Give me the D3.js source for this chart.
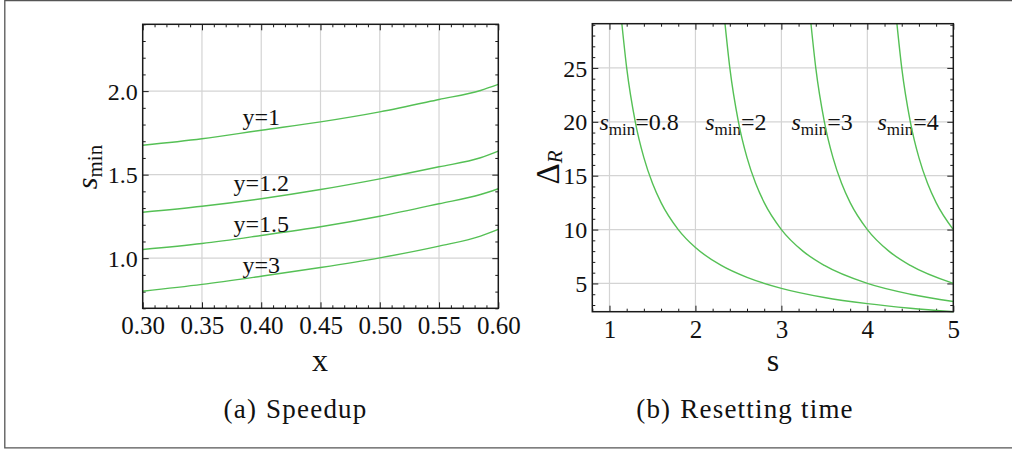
<!DOCTYPE html>
<html><head><meta charset="utf-8">
<script src="https://cdn.jsdelivr.net/npm/d3@7"></script>
<style>
body{margin:0;background:#fff}
svg{display:block}
text{font-family:"Liberation Serif","Times New Roman",serif;fill:#111}
</style>
</head><body>
<svg id="c" width="1012" height="451"></svg>
<script>
// ---------- Panel (a): Speedup ----------
const xA = [0.30, 0.35, 0.40, 0.45, 0.50, 0.55, 0.585, 0.60];
const sY1  = [1.676, 1.715, 1.766, 1.816, 1.876, 1.950, 2.004, 2.040];
const sY12 = [1.275, 1.311, 1.356, 1.411, 1.475, 1.547, 1.601, 1.641];
const sY15 = [1.052, 1.088, 1.136, 1.188, 1.251, 1.326, 1.381, 1.416];
const sY3  = [0.802, 0.843, 0.892, 0.944, 1.002, 1.072, 1.132, 1.172];
const seriesA = [sY1, sY12, sY15, sY3];
const labelsA = ["y=1", "y=1.2", "y=1.5", "y=3"];
const labelXA = [0.40, 0.40, 0.40, 0.40];
const labelYA = [1.80, 1.40, 1.154, 0.914];
const xTicksA = [0.30, 0.35, 0.40, 0.45, 0.50, 0.55, 0.60];
const yTicksA = [1.0, 1.5, 2.0];
const xDomainA = [0.30, 0.60];
const yDomainA = [0.70, 2.40];

// ---------- Panel (b): Resetting time ----------
const sB08 = [1.144, 1.2, 1.3, 1.4, 1.5, 1.6, 1.8, 2.0, 2.3, 2.6, 3.0, 3.5, 4.0, 4.5, 5.0];
const dB08 = [29.1, 25.0, 20.0, 16.67, 14.29, 12.5, 10.0, 8.33, 6.67, 5.56, 4.55, 3.70, 3.125, 2.70, 2.38];
const sB2  = [2.344, 2.4, 2.5, 2.6, 2.7, 2.8, 3.0, 3.25, 3.5, 4.0, 4.5, 5.0];
const dB2  = [29.1, 25.0, 20.0, 16.67, 14.29, 12.5, 10.0, 8.0, 6.67, 5.0, 4.0, 3.33];
const sB3  = [3.344, 3.4, 3.5, 3.6, 3.7, 3.8, 4.0, 4.25, 4.5, 5.0];
const dB3  = [29.1, 25.0, 20.0, 16.67, 14.29, 12.5, 10.0, 8.0, 6.67, 5.0];
const sB4  = [4.344, 4.4, 4.5, 4.6, 4.7, 4.8, 5.0];
const dB4  = [29.1, 25.0, 20.0, 16.67, 14.29, 12.5, 10.0];
const seriesBX = [sB08, sB2, sB3, sB4];
const seriesBY = [dB08, dB2, dB3, dB4];
const labelsB = ["0.8", "2", "3", "4"];
const labelXB = [1.344, 2.471, 3.474, 4.475];
const labelYB = [20, 20, 20, 20];
const xTicksB = [1, 2, 3, 4, 5];
const yTicksB = [5, 10, 15, 20, 25];
const xDomainB = [0.8, 5.0];
const yDomainB = [2.38, 29.1];

const GREEN = "#55c055";
const GRID = "#d4d4d4";
const FRAME = "#1a1a1a";
const SERIF = '"Liberation Serif", "Times New Roman", serif';

const svg = d3.select("#c");

// outer border (left, top, bottom)
svg.append("path")
  .attr("d", "M1013,0.5 H4.8 V447.8 H1013")
  .attr("fill", "none").attr("stroke", "#555").attr("stroke-width", 1.3);

function range(a, b, step) {
  const out = []; const n = Math.round((b - a) / step);
  for (let i = 0; i <= n; i++) out.push(+(a + i * step).toFixed(6));
  return out;
}

function setFont(sel, size, extra) {
  sel.style("font-family", SERIF).style("font-size", size + "px").style("fill", "#111");
  if (extra) sel.style("font-style", extra);
  return sel;
}

function panel(opts) {
  const { x, y, xTicks, yTicks, xMinor, yMinor, xFmt, yFmt } = opts;
  const g = svg.append("g");
  const [x0, x1] = x.range(), [y0, y1] = y.range();
  // grid
  g.selectAll(".gx").data(xTicks.filter(t => x(t) > x0 + 1 && x(t) < x1 - 1)).join("line")
    .attr("x1", d => x(d)).attr("x2", d => x(d)).attr("y1", y1).attr("y2", y0)
    .attr("stroke", GRID).attr("stroke-width", 1.2);
  g.selectAll(".gy").data(yTicks.filter(t => y(t) < y0 - 1 && y(t) > y1 + 1)).join("line")
    .attr("y1", d => y(d)).attr("y2", d => y(d)).attr("x1", x0).attr("x2", x1)
    .attr("stroke", GRID).attr("stroke-width", 1.2);
  const mk = (axisFn, scale, ticks, len, fmt) => axisFn(scale).tickValues(ticks).tickSizeInner(len).tickSizeOuter(0).tickFormat(fmt || "");
  const xMin = xMinor.filter(t => !xTicks.some(m => Math.abs(m - t) < 1e-6));
  const yMin = yMinor.filter(t => !yTicks.some(m => Math.abs(m - t) < 1e-6));
  const styleAxis = sel => {
    sel.attr("font-family", null).attr("font-size", null);
    sel.select(".domain").remove();
    sel.selectAll(".tick line").attr("stroke", FRAME).attr("stroke-width", 1);
  };
  // bottom
  const bx = g.append("g").attr("transform", `translate(0,${y0})`).call(mk(d3.axisBottom, x, xTicks, -6, xFmt));
  styleAxis(bx);
  setFont(bx.selectAll("text"), 25).attr("dy", null).attr("y", 26);
  styleAxis(g.append("g").attr("transform", `translate(0,${y0})`).call(mk(d3.axisBottom, x, xMin, -3)));
  // top
  styleAxis(g.append("g").attr("transform", `translate(0,${y1})`).call(mk(d3.axisTop, x, xTicks, -6)));
  styleAxis(g.append("g").attr("transform", `translate(0,${y1})`).call(mk(d3.axisTop, x, xMin, -3)));
  // left
  const ly = g.append("g").attr("transform", `translate(${x0},0)`).call(mk(d3.axisLeft, y, yTicks, -6, yFmt));
  styleAxis(ly);
  setFont(ly.selectAll("text"), 24).attr("x", -5).attr("dy", "0.34em");
  styleAxis(g.append("g").attr("transform", `translate(${x0},0)`).call(mk(d3.axisLeft, y, yMin, -3)));
  // right
  styleAxis(g.append("g").attr("transform", `translate(${x1},0)`).call(mk(d3.axisRight, y, yTicks, -6)));
  styleAxis(g.append("g").attr("transform", `translate(${x1},0)`).call(mk(d3.axisRight, y, yMin, -3)));
  return g;
}

// ----- Panel A -----
const xa = d3.scaleLinear().domain(xDomainA).range([142.7, 498.3]);
const ya = d3.scaleLinear().domain(yDomainA).range([308.3, 24.3]);
const gA = panel({ x: xa, y: ya, xTicks: xTicksA, yTicks: yTicksA,
  xMinor: range(0.30, 0.60, 0.01), yMinor: range(0.7, 2.4, 0.1),
  xFmt: d3.format(".2f"), yFmt: d3.format(".1f") });

const lineA = d3.line().x((d, i) => xa(xA[i])).y(d => ya(d)).curve(d3.curveMonotoneX);
gA.selectAll(".ca").data(seriesA).join("path")
  .attr("d", d => lineA(d)).attr("fill", "none").attr("stroke", GREEN).attr("stroke-width", 1.4);
setFont(gA.selectAll(".la").data(labelsA).join("text")
  .attr("x", (d, i) => xa(labelXA[i])).attr("y", (d, i) => ya(labelYA[i]))
  .attr("text-anchor", "middle").text(d => d), 24);
gA.append("rect").attr("x", 142.7).attr("y", 24.3).attr("width", 498.3 - 142.7).attr("height", 308.3 - 24.3)
  .attr("fill", "none").attr("stroke", FRAME).attr("stroke-width", 1.5);

// ----- Panel B -----
const xb = d3.scaleLinear().domain(xDomainB).range([592.3, 953.3]);
const yb = d3.scaleLinear().domain(yDomainB).range([311.7, 23.7]);
const gB = panel({ x: xb, y: yb, xTicks: xTicksB, yTicks: yTicksB,
  xMinor: range(0.8, 5.0, 0.2), yMinor: range(3, 29, 1),
  xFmt: d3.format("d"), yFmt: d3.format("d") });

gB.selectAll(".lb").data(labelsB).join("text")
  .attr("x", (d, i) => xb(labelXB[i])).attr("y", (d, i) => yb(labelYB[i]) + 8)
  .attr("text-anchor", "middle")
  .each(function (d) {
    const t = d3.select(this);
    setFont(t, 24);
    setFont(t.append("tspan"), 24, "italic").text("s");
    setFont(t.append("tspan"), 17).attr("dy", 5).text("min");
    setFont(t.append("tspan"), 24).attr("dy", -5).text("=" + d);
  });

const lineB = d3.line().curve(d3.curveMonotoneX);
gB.selectAll(".cb").data(seriesBX).join("path")
  .attr("d", (d, k) => lineB(d.map((s, i) => [xb(s), yb(seriesBY[k][i])])))
  .attr("fill", "none").attr("stroke", GREEN).attr("stroke-width", 1.4);
gB.append("rect").attr("x", 592.3).attr("y", 23.7).attr("width", 953.3 - 592.3).attr("height", 311.7 - 23.7)
  .attr("fill", "none").attr("stroke", FRAME).attr("stroke-width", 1.5);

// ----- axis labels -----
setFont(svg.append("text").attr("x", 320).attr("y", 371).attr("text-anchor", "middle").text("x"), 32);
setFont(svg.append("text").attr("x", 773).attr("y", 371).attr("text-anchor", "middle").text("s"), 32);

const yl = setFont(svg.append("text").attr("transform", "translate(97,167) rotate(-90)").attr("text-anchor", "middle"), 30);
setFont(yl.append("tspan"), 30, "italic").text("s");
setFont(yl.append("tspan"), 21).attr("dy", 5).text("min");

const yr = setFont(svg.append("text").attr("transform", "translate(559,167.5) rotate(-90)").attr("text-anchor", "middle"), 33);
setFont(yr.append("tspan"), 33).text("Δ");
setFont(yr.append("tspan"), 21, "italic").attr("dy", 3).text("R");

// ----- captions -----
const capA = setFont(svg.append("text").attr("x", 295.5).attr("y", 418).attr("text-anchor", "middle"), 27)
  .style("letter-spacing", "1.2px");
setFont(capA.append("tspan"), 27).text("(a)");
setFont(capA.append("tspan"), 27).attr("dx", 9).text("Speedup");
const capB = setFont(svg.append("text").attr("x", 745).attr("y", 418).attr("text-anchor", "middle"), 27)
  .style("letter-spacing", "1.2px");
setFont(capB.append("tspan"), 27).text("(b)");
setFont(capB.append("tspan"), 27).attr("dx", 9).text("Resetting time");
</script>
</body></html>
